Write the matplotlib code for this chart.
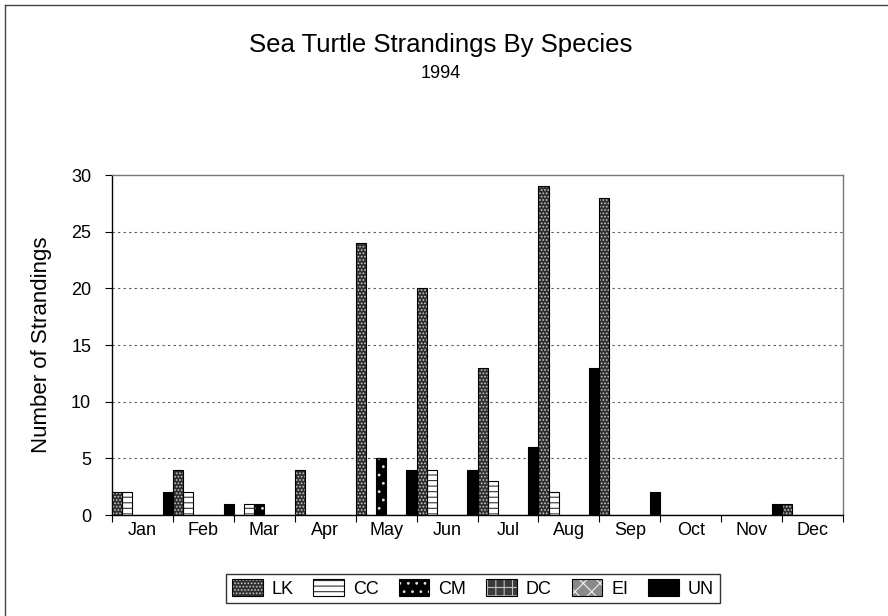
import matplotlib
matplotlib.use('Agg')
import matplotlib.pyplot as plt
from matplotlib.patches import Patch
from matplotlib.lines import Line2D
import numpy as np

plt.rcParams['font.family'] = ['Liberation Sans', 'DejaVu Sans']
plt.rcParams['hatch.linewidth'] = 0.8

# Donnees (nombre d'echouages par mois)
months = ['Jan', 'Feb', 'Mar', 'Apr', 'May', 'Jun', 'Jul', 'Aug', 'Sep', 'Oct', 'Nov', 'Dec']
species = ['LK', 'CC', 'CM', 'DC', 'EI', 'UN']
lk = [2, 4, 0, 4, 24, 20, 13, 29, 28, 0, 0, 1]
cc = [2, 2, 1, 0, 0, 4, 3, 2, 0, 0, 0, 0]
cm = [0, 0, 1, 0, 5, 0, 0, 0, 0, 0, 0, 0]
dc = [0, 0, 0, 0, 0, 0, 0, 0, 0, 0, 0, 0]
ei = [0, 0, 0, 0, 0, 0, 0, 0, 0, 0, 0, 0]
un = [2, 1, 0, 0, 4, 4, 6, 13, 2, 0, 1, 0]
series = [lk, cc, cm, dc, ei, un]

# Style de chaque serie : (fond, couleur hachure, hachure)
styles = [('#2e2e2e', '#c8c8c8', '.....'),
          ('white', '#333333', '---'),
          ('black', '#e0e0e0', '..'),
          ('#3a3a3a', '#c0c0c0', '++'),
          ('#8a8a8a', '#f0f0f0', 'xx'),
          ('black', 'black', '')]

W, H = 888, 616
fig = plt.figure(figsize=(W / 100, H / 100), dpi=100)
ax = fig.add_axes([112 / W, 1 - 515 / H, (843 - 112) / W, (515 - 175) / H])

x = np.arange(len(months))
bw = 1 / len(species)
handles = []
for i, vals in enumerate(series):
    face, hcol, hatch = styles[i]
    pos = x - 0.5 + (i + 0.5) * bw
    ax.bar(pos, vals, bw, color=face, edgecolor=hcol, hatch=hatch, linewidth=0, zorder=3)
    ax.bar(pos, vals, bw, fill=False, edgecolor='black', linewidth=0.8, zorder=4)
    handles.append((Patch(facecolor=face, edgecolor=hcol, hatch=hatch, linewidth=0),
                    Patch(fill=False, edgecolor='black', linewidth=0.8)))

ax.set_xlim(-0.5, len(months) - 0.5)
ax.set_ylim(0, 30)
ax.set_yticks(range(0, 31, 5))
ax.set_xticks(x)
ax.set_xticklabels(months)
ax.set_xticks(np.arange(len(months) + 1) - 0.5, minor=True)
ax.tick_params(axis='x', which='major', length=0, pad=5, labelsize=13)
ax.tick_params(axis='x', which='minor', length=5, width=0.8, direction='out')
ax.tick_params(axis='y', length=5, width=0.8, direction='out', pad=10, labelsize=13)

# Grille pointillee
for v in range(5, 30, 5):
    ax.axhline(v, color='#555555', linewidth=0.8, linestyle=(0, (2, 3)), zorder=1)

for s in ['left', 'bottom']:
    ax.spines[s].set_linewidth(1)
    ax.spines[s].set_color('black')
for s in ['top', 'right']:
    ax.spines[s].set_linewidth(1)
    ax.spines[s].set_color('#777777')

# Titres
fig.text(441 / W, 1 - 52 / H, 'Sea Turtle Strandings By Species', ha='center', va='baseline', fontsize=18.5)
fig.text(441 / W, 1 - 78 / H, '1994', ha='center', va='baseline', fontsize=13)
fig.text(31 / W, 1 - 345 / H, 'Number of Strandings', rotation=90, ha='left', va='center', fontsize=16)

# Legende
leg = fig.legend(handles, species, loc='center', bbox_to_anchor=(473 / W, 1 - 588.5 / H), ncol=6,
                 fontsize=13, frameon=True, fancybox=False, edgecolor='black',
                 handlelength=1.7, handleheight=1.1, handletextpad=0.5, columnspacing=1.1,
                 borderpad=0.3)
leg.get_frame().set_linewidth(1)

# Cadre exterieur (coupe a droite et en bas)
fig.add_artist(Line2D([5 / W, 1], [1 - 5 / H, 1 - 5 / H], color='#444444', linewidth=1))
fig.add_artist(Line2D([5 / W, 5 / W], [0, 1 - 5 / H], color='#444444', linewidth=1))

fig.savefig('out.png', dpi=100)
